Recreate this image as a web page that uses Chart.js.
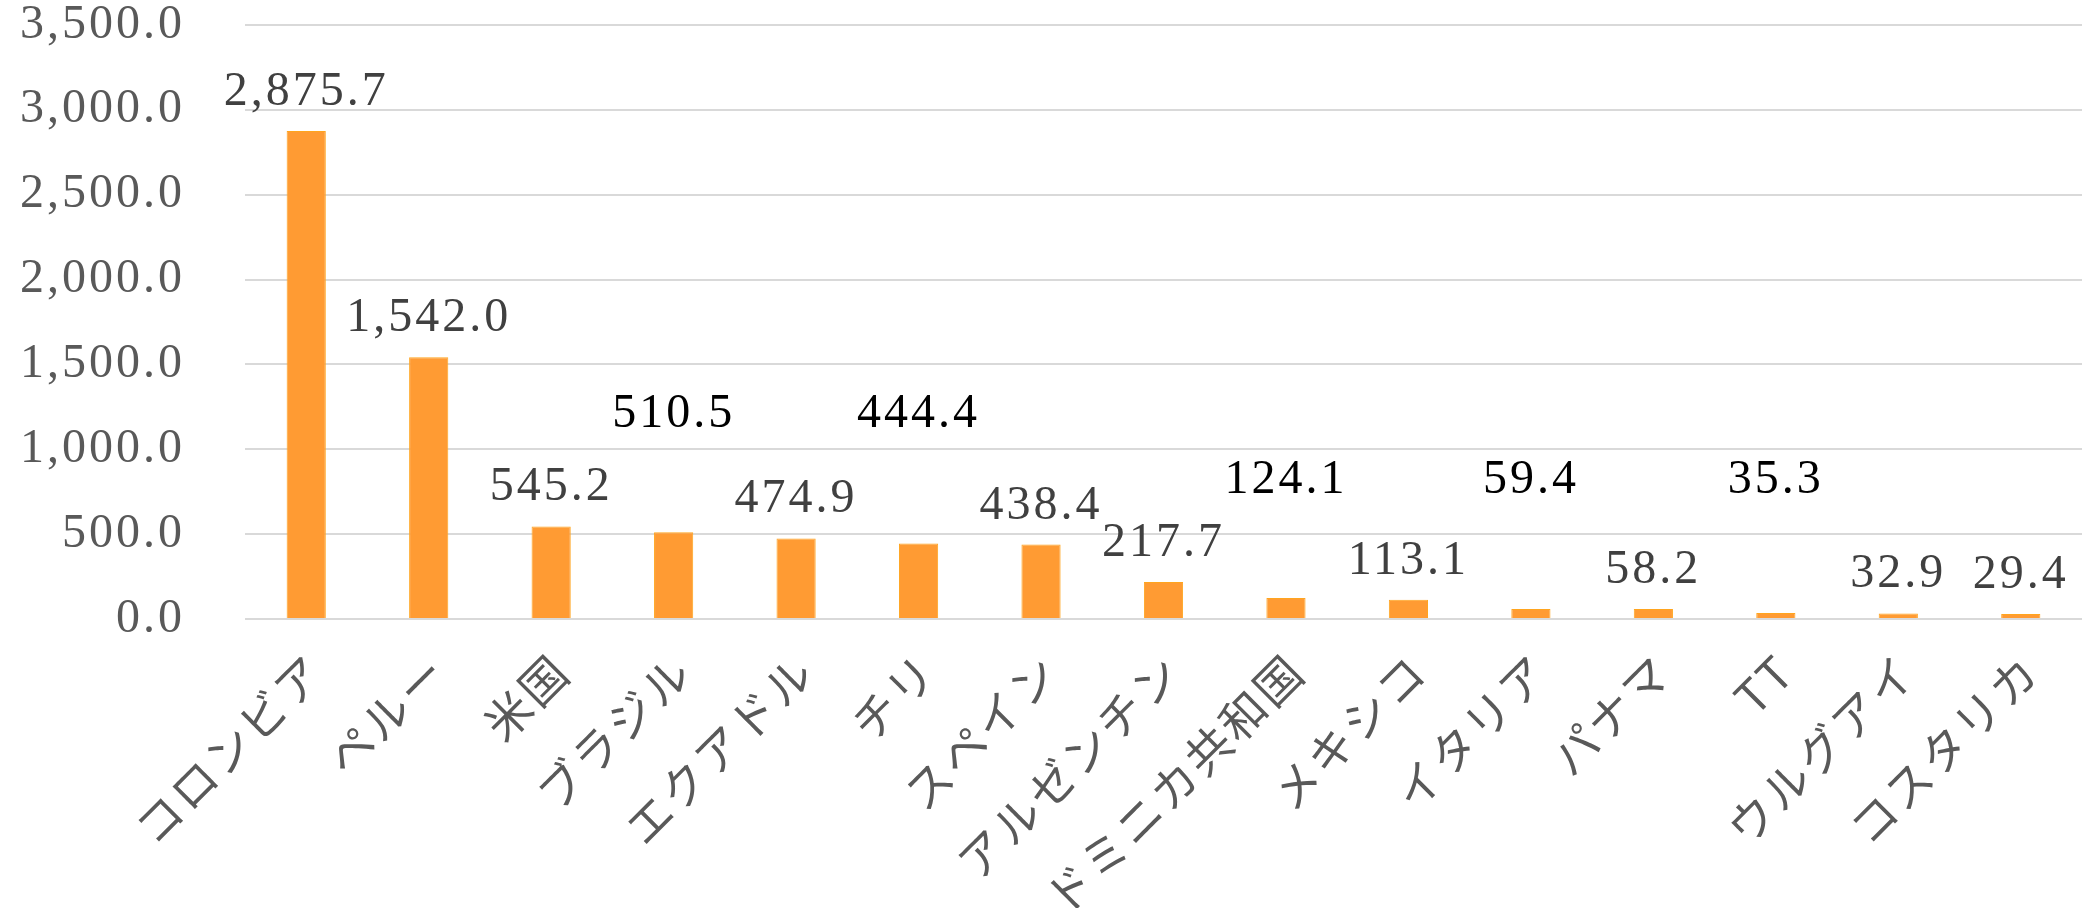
<!DOCTYPE html>
<html>
<head>
<meta charset="utf-8">
<script src="https://cdn.jsdelivr.net/npm/chart.js@4/dist/chart.umd.min.js"></script>
<style>
html,body{margin:0;padding:0;background:#ffffff;}
#wrap{width:2097px;height:908px;position:relative;}
</style>
</head>
<body>
<div id="wrap"><canvas id="c"></canvas></div>
<script>
const categories = ['コロンビア','ペルー','米国','ブラジル','エクアドル','チリ','スペイン','アルゼンチン','ドミニカ共和国','メキシコ','イタリア','パナマ','TT','ウルグアイ','コスタリカ'];
const values = [2875.7, 1542.0, 545.2, 510.5, 474.9, 444.4, 438.4, 217.7, 124.1, 113.1, 59.4, 58.2, 35.3, 32.9, 29.4];
const yMin = 0;
const yMax = 3500;
const yStep = 500;

const fmt = v => v.toLocaleString('en-US', {minimumFractionDigits: 1, maximumFractionDigits: 1});
const NUM_FONT = "'Liberation Serif', 'DejaVu Serif', serif";
const JP_FONT = "'Noto Sans CJK JP', 'Noto Sans', sans-serif";

const spacingPlugin = {
  id: 'spacing',
  beforeLayout(chart, args, opts) { chart.ctx.letterSpacing = opts.px; },
  beforeDraw(chart, args, opts) { chart.ctx.letterSpacing = opts.px; }
};

const labelPlugin = {
  id: 'barLabels',
  afterDatasetsDraw(chart, args, opts) {
    const ctx = chart.ctx;
    const meta = chart.getDatasetMeta(0);
    const ys = chart.scales.y;
    ctx.save();
    ctx.font = opts.font;
    ctx.textAlign = 'center';
    ctx.textBaseline = 'alphabetic';
    meta.data.forEach((bar, i) => {
      let y, color;
      if (opts.raised[i] !== undefined) {
        y = ys.getPixelForValue(opts.raised[i]);
        color = opts.raisedColor;
      } else {
        y = bar.y - opts.gap;
        color = opts.color;
      }
      ctx.fillStyle = color;
      ctx.fillText(fmt(values[i]), bar.x, y);
    });
    ctx.restore();
  }
};

new Chart(document.getElementById('c'), {
  type: 'bar',
  data: {
    labels: categories,
    datasets: [{
      data: values,
      backgroundColor: '#FF9B33',
      borderColor: '#FFA51F',
      borderWidth: 1,
      categoryPercentage: 1.0,
      barPercentage: 0.32
    }]
  },
  options: {
    responsive: true,
    maintainAspectRatio: false,
    animation: false,
    layout: { padding: { top: 25, right: 15, left: 0, bottom: 0 } },
    plugins: {
      legend: { display: false },
      tooltip: { enabled: false },
      spacing: { px: '3px' },
      barLabels: {
        font: "48px " + NUM_FONT,
        color: '#404040',
        raisedColor: '#000000',
        gap: 26,
        raised: { 3: 1133, 5: 1133, 8: 744, 10: 744, 12: 744 }
      }
    },
    scales: {
      x: {
        grid: { display: false, drawTicks: false },
        border: { display: false },
        ticks: {
          autoSkip: false,
          maxRotation: 45,
          minRotation: 45,
          padding: 24,
          labelOffset: 10,
          color: '#595959',
          font: { family: JP_FONT, size: 46 }
        },
        afterFit(scale) { scale.height = 289; }
      },
      y: {
        min: yMin,
        max: yMax,
        grid: { color: '#D9D9D9', lineWidth: 2, drawTicks: false },
        border: { display: false },
        ticks: {
          stepSize: yStep,
          padding: 60,
          color: '#595959',
          font: { family: NUM_FONT, size: 48 },
          callback: v => fmt(v)
        },
        afterFit(scale) { scale.width = 245; scale.paddingTop = 0; scale.paddingBottom = 0; }
      }
    }
  },
  plugins: [spacingPlugin, labelPlugin]
});
</script>
</body>
</html>
